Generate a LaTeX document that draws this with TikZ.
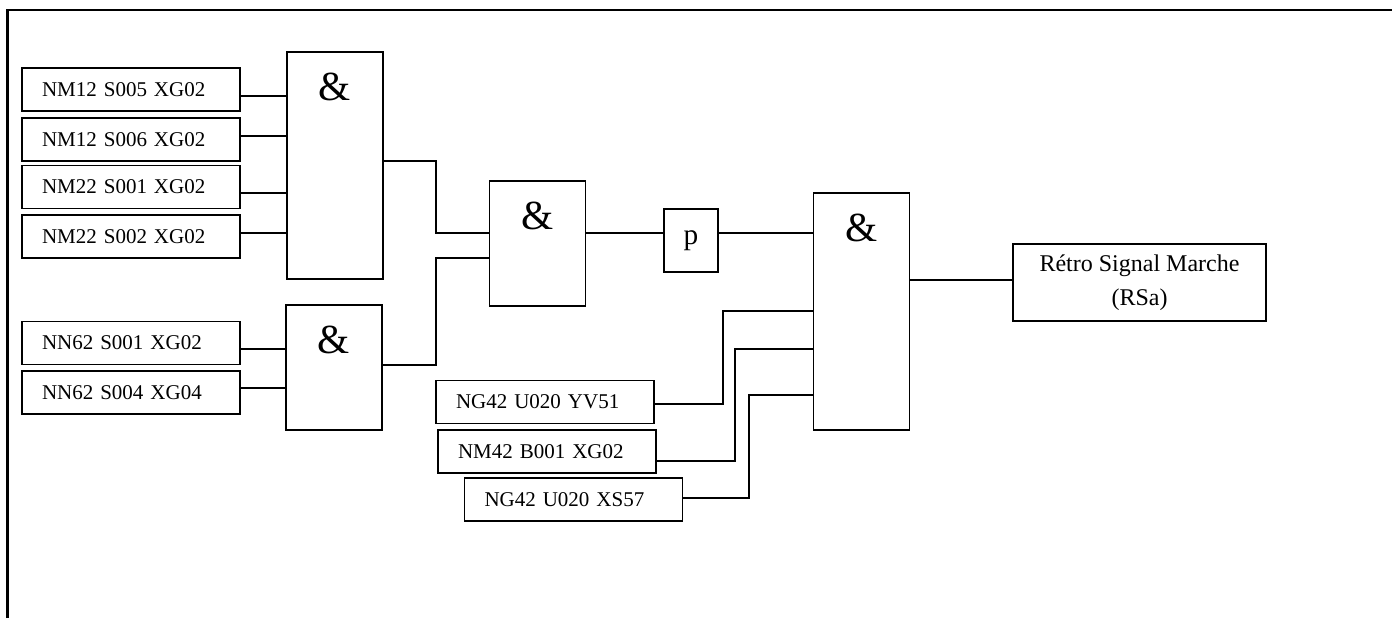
\documentclass[tikz,border=0pt]{standalone}
\usepackage{fontspec}
\setmainfont{Liberation Serif}
\newlength{\px}\setlength{\px}{0.75pt}
\newcommand\lblfont{\fontsize{15.75pt}{18pt}\selectfont}
\newcommand\ampfont{\fontsize{31pt}{33pt}\selectfont}
\newcommand\bigfont{\fontsize{18pt}{25.5pt}\selectfont}
\newcommand\pfont{\fontsize{22pt}{24pt}\selectfont}
\begin{document}
\begin{tikzpicture}[x=0.75pt,y=-0.75pt,
  inbox/.style={draw, line width=1.2pt, minimum height=43\px, inner ysep=0pt,
    inner xsep=20\px, text width=178\px, align=left, font=\lblfont},
  gate/.style={draw, line width=1.2pt, inner sep=0pt, minimum width=96\px,
    label={[font=\ampfont, anchor=center, yshift=-26.5pt]north:\&}},
  wire/.style={line width=0.85pt}]
\useasboundingbox (0,0) rectangle (1392,618);
% frame
\draw[line width=1.8pt] (7.5,618) -- (7.5,10) -- (1392,10);
% input boxes
\node[inbox] (b1) at (131,89.5) {NM12 S005 XG02};
\node[inbox] (b2) at (131,139.5) {NM12 S006 XG02};
\node[inbox] (b3) at (131,187) {NM22 S001 XG02};
\node[inbox] (b4) at (131,236.5) {NM22 S002 XG02};
\node[inbox] (b5) at (131,343) {NN62 S001 XG02};
\node[inbox] (b6) at (131,392.5) {NN62 S004 XG04};
\node[inbox] (c1) at (545,402) {NG42 U020 YV51};
\node[inbox] (c2) at (547,451.5) {NM42 B001 XG02};
\node[inbox] (c3) at (573.5,499.5) {NG42 U020 XS57};
% gates
\node[gate, minimum height=227\px] (g1) at (335,165.5) {};
\node[gate, minimum height=125\px] (gs) at (334,367.5) {};
\node[gate, minimum height=125\px] (g2) at (537.5,243.5) {};
\node[gate, minimum height=237\px] (g3) at (861.5,311.5) {};
\node[draw, line width=1.2pt, inner sep=0pt, minimum width=54\px, minimum height=63\px, font=\pfont] (p) at (691,240.5) {p};
\node[draw, line width=1.2pt, inner sep=0pt, minimum width=253\px, minimum height=77\px, align=center, font=\bigfont] (r) at (1139.5,282.5) {Rétro Signal Marche\\(RSa)};
% wires
\draw[wire] (b1.east |- 0,96) -- (g1.west |- 0,96);
\draw[wire] (b2.east |- 0,136) -- (g1.west |- 0,136);
\draw[wire] (b3.east |- 0,193) -- (g1.west |- 0,193);
\draw[wire] (b4.east |- 0,233) -- (g1.west |- 0,233);
\draw[wire] (b5.east |- 0,349) -- (gs.west |- 0,349);
\draw[wire] (b6.east |- 0,388) -- (gs.west |- 0,388);
\draw[wire] (g1.east |- 0,161) -- (436,161) -- (436,233) -- (g2.west |- 0,233);
\draw[wire] (gs.east |- 0,365) -- (436,365) -- (436,258) -- (g2.west |- 0,258);
\draw[wire] (g2.east |- 0,233) -- (p.west |- 0,233);
\draw[wire] (p.east |- 0,233) -- (g3.west |- 0,233);
\draw[wire] (c1.east |- 0,404) -- (723,404) -- (723,311) -- (g3.west |- 0,311);
\draw[wire] (c2.east |- 0,461) -- (735,461) -- (735,349) -- (g3.west |- 0,349);
\draw[wire] (c3.east |- 0,498) -- (749,498) -- (749,395) -- (g3.west |- 0,395);
\draw[wire] (g3.east |- 0,280) -- (r.west |- 0,280);
\end{tikzpicture}
\end{document}
